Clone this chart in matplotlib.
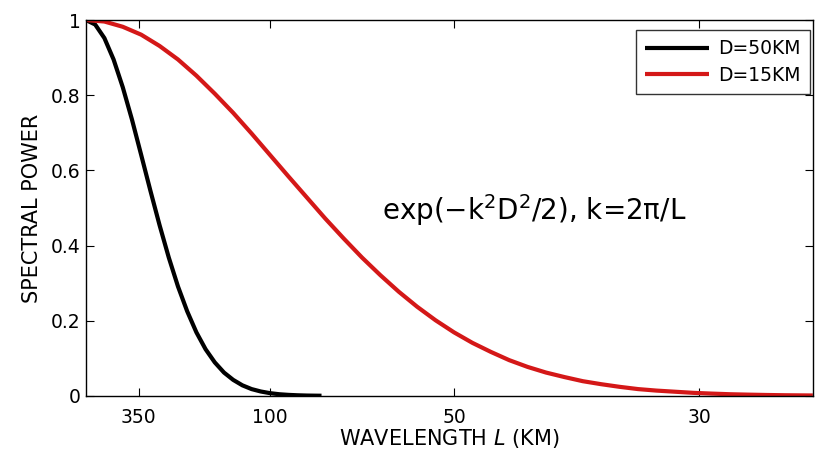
import matplotlib
matplotlib.use("Agg")
import matplotlib.pyplot as plt

plt.rcParams['font.family'] = ['DejaVu Sans']
plt.rcParams['mathtext.fontset'] = 'dejavusans'

# inverse wavelength (1/km) sample points
inv_L_black = [0.0, 0.0005, 0.001, 0.0015, 0.002, 0.0025, 0.003, 0.0035,
               0.004, 0.0045, 0.005, 0.0055, 0.006, 0.0065, 0.007, 0.0075,
               0.008, 0.0085, 0.009, 0.0095, 0.010, 0.0105, 0.011, 0.0115,
               0.012, 0.0125, 0.0128]
power_black = [1.0, 0.988, 0.952, 0.895, 0.821, 0.735, 0.641, 0.546,
               0.454, 0.368, 0.291, 0.225, 0.169, 0.124, 0.089, 0.062,
               0.0425, 0.028, 0.018, 0.0116, 0.0072, 0.0043, 0.0026, 0.0015,
               0.0008, 0.00045, 0.0003]

inv_L_red = [0.0, 0.001, 0.002, 0.003, 0.004, 0.005, 0.006, 0.007, 0.008,
             0.009, 0.010, 0.011, 0.012, 0.013, 0.014, 0.015, 0.016, 0.017,
             0.018, 0.019, 0.020, 0.021, 0.022, 0.023, 0.024, 0.025, 0.026,
             0.027, 0.028, 0.029, 0.030, 0.031, 0.032, 0.033, 0.034, 0.035,
             0.036, 0.037, 0.038, 0.039, 0.0395]
power_red = [1.0, 0.996, 0.982, 0.961, 0.931, 0.895, 0.852, 0.804, 0.753,
             0.698, 0.641, 0.584, 0.528, 0.472, 0.419, 0.368, 0.321, 0.277,
             0.237, 0.201, 0.169, 0.141, 0.117, 0.095, 0.077, 0.062, 0.050,
             0.039, 0.031, 0.024, 0.018, 0.014, 0.011, 0.008, 0.006, 0.0043,
             0.0032, 0.0023, 0.0016, 0.0012, 0.0010]

series_labels = ['D=50KM', 'D=15KM']
wavelength_ticks = [350, 100, 50, 30]
y_ticks = [0, 0.2, 0.4, 0.6, 0.8, 1]
y_ticklabels = ['0', '0.2', '0.4', '0.6', '0.8', '1']

fig = plt.figure(figsize=(8.15, 4.55), dpi=100)
ax = fig.add_axes([0.1055, 0.130, 0.8925, 0.826])

ax.plot(inv_L_black, power_black, color='black', lw=3.0, label=series_labels[0],
        solid_capstyle='butt')
ax.plot(inv_L_red, power_red, color='#d41818', lw=3.0, label=series_labels[1],
        solid_capstyle='butt')

ax.set_xlim(0, 0.03953)
ax.set_ylim(0, 1)
ax.set_xticks([1.0 / w for w in wavelength_ticks])
ax.set_xticklabels([str(w) for w in wavelength_ticks])
ax.set_yticks(y_ticks)
ax.set_yticklabels(y_ticklabels)
ax.tick_params(direction='in', top=True, right=True, length=6, width=0.8,
               labelsize=13.5)
ax.tick_params(axis='x', pad=8.5)
ax.tick_params(axis='y', pad=4)
for s in ax.spines.values():
    s.set_linewidth(1.0)

ax.set_xlabel('WAVELENGTH $L$ (KM)', fontsize=15, labelpad=0)
ax.set_ylabel('SPECTRAL POWER', fontsize=15, labelpad=6)

ax.text(0.4065, 0.468, r'exp($-$k$^2$D$^2$/2), k=2π/L', transform=ax.transAxes,
        fontsize=20, ha='left', va='baseline')

leg = ax.legend(loc='upper right', bbox_to_anchor=(810 / 815, 1 - 30 / 455),
                bbox_transform=fig.transFigure, borderaxespad=0,
                fontsize=13.5, frameon=True, fancybox=False,
                edgecolor='black', handlelength=3.4,
                borderpad=0.5, labelspacing=0.4, handletextpad=0.5)
leg.get_frame().set_linewidth(1.0)

fig.savefig('out.png', dpi=100)
